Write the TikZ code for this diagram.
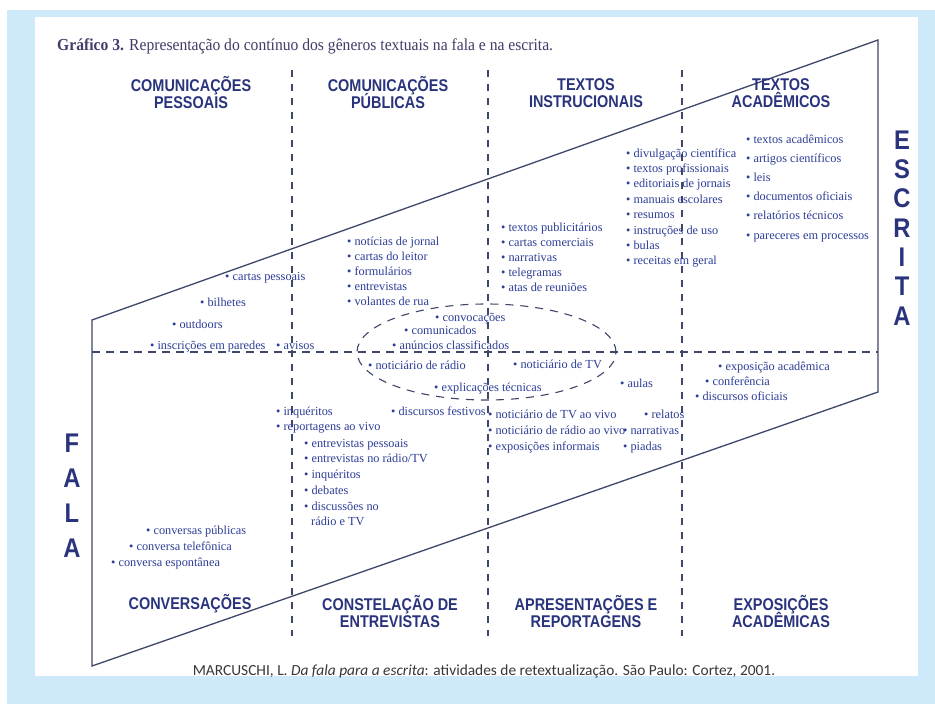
\documentclass[tikz,border=0pt]{standalone}
\usepackage{fontspec}
\setmainfont{Liberation Serif}
\newfontfamily\titlefont[FakeStretch=0.93]{Liberation Serif}
\newfontfamily\hdrfont[FakeStretch=0.85]{Liberation Sans}
\newfontfamily\bigfont[FakeStretch=0.88]{Liberation Sans}
\newfontfamily\capfont{Carlito}
\usetikzlibrary{shapes.geometric}

% keep two-line headings on a fixed baseline grid, accents or not
\lineskiplimit=-20pt
\lineskip=0pt

\definecolor{pageblue}{RGB}{206,233,250}
\definecolor{framecol}{RGB}{62,70,105}
\definecolor{itemblue}{RGB}{45,62,150}
\definecolor{headnavy}{RGB}{42,52,125}
\definecolor{titlecol}{RGB}{66,60,105}
\definecolor{capgray}{RGB}{55,55,55}

\newcommand\gitem[1]{\textbullet\ #1}

\tikzset{
  frameline/.style={draw=framecol, line width=1.3pt},
  divider/.style={draw=framecol, line width=1.1pt, dash pattern=on 7pt off 7pt},
  item/.style={anchor=base west, inner sep=0pt, text=itemblue,
    font=\fontsize{12.3}{14}\selectfont},
  hdr/.style={align=center, inner sep=0pt, text=headnavy,
    font=\hdrfont\bfseries\fontsize{17}{17}\selectfont},
  bigletter/.style={inner sep=0pt, text=headnavy,
    font=\bigfont\bfseries\fontsize{27}{27}\selectfont},
}

\begin{document}
\begin{tikzpicture}[x=1pt,y=-1pt]
\useasboundingbox (0,0) rectangle (935,704);
% page and sheet
\fill[white] (0,0) rectangle (935,704);
\fill[pageblue] (7,10) rectangle (935,704);
\fill[white] (35,17) rectangle (918,676);

% title
\node[anchor=base west, inner sep=0pt, text=titlecol,
  font=\titlefont\fontsize{16.8}{18}\selectfont] (title) at (57,50)
  {\textbf{Gráfico 3.} Representação do contínuo dos gêneros textuais na fala e na escrita.};

% corners of the continuum band
\coordinate (TL) at (92,320);
\coordinate (TR) at (878,40);
\coordinate (BR) at (878,392);
\coordinate (BL) at (92,666);
\draw[frameline] (TL) -- (TR) -- (BR) -- (BL) -- cycle;

% column dividers and the fala/escrita line
\foreach \x/\n in {292/a,488/b,682/c}{
  \coordinate (\n top) at (\x,70);
  \coordinate (\n bot) at (\x,636);
  \draw[divider] (\n top) -- (\n bot);
}
\coordinate (midL) at (92,352);
\coordinate (midR) at (878,352);
\draw[divider, dash pattern=on 8pt off 6pt] (midL) -- (midR);

% dashed oval of mixed genres
\node[ellipse, draw=framecol, line width=1.1pt, dash pattern=on 8pt off 7pt,
  minimum width=259pt, minimum height=96pt, inner sep=0pt] (oval) at (486.5,352) {};

% column headings
\node[hdr] (h1) at (191,93) {COMUNICAÇÕES\\PESSOAIS};
\node[hdr] (h2) at (388,93) {COMUNICAÇÕES\\PÚBLICAS};
\node[hdr] (h3) at (586,93) {TEXTOS\\INSTRUCIONAIS};
\node[hdr] (h4) at (781,93) {TEXTOS\\ACADÊMICOS};
\node[hdr] (f1) at (190,604) {CONVERSAÇÕES};
\node[hdr] (f2) at (390,612) {CONSTELAÇÃO DE\\ENTREVISTAS};
\node[hdr] (f3) at (586,612) {APRESENTAÇÕES E\\REPORTAGENS};
\node[hdr] (f4) at (781,612) {EXPOSIÇÕES\\ACADÊMICAS};

% side words
\foreach \l [count=\i] in {E,S,C,R,I,T,A}
  \node[bigletter] (esc\i) at (902,{140+29.3*(\i-1)}) {\l};
\foreach \l [count=\i] in {F,A,L,A}
  \node[bigletter] (fal\i) at (72,{443+35*(\i-1)}) {\l};

% personal communications
\node[item] (p1) at (225,280) {\gitem{cartas pessoais}};
\node[item] (p2) at (200,306) {\gitem{bilhetes}};
\node[item] (p3) at (172,328) {\gitem{outdoors}};
\node[item] (p4) at (150,349) {\gitem{inscrições em paredes}};
\node[item] (p5) at (276,349) {\gitem{avisos}};

% public communications
\foreach \t [count=\i] in {notícias de jornal,cartas do leitor,formulários,entrevistas,volantes de rua}
  \node[item] (u\i) at (347,{245+15.2*(\i-1)}) {\gitem{\t}};

% instructional texts
\foreach \t [count=\i] in {textos publicitários,cartas comerciais,narrativas,telegramas,atas de reuniões}
  \node[item] (t\i) at (501,{231+15.2*(\i-1)}) {\gitem{\t}};
\foreach \t [count=\i] in {divulgação científica,textos profissionais,editoriais de jornais,manuais escolares,resumos,instruções de uso,bulas,receitas em geral}
  \node[item] (d\i) at (626,{157+15.4*(\i-1)}) {\gitem{\t}};

% academic texts
\foreach \t [count=\i] in {textos acadêmicos,artigos científicos,leis,documentos oficiais,relatórios técnicos,pareceres em processos}
  \node[item] (k\i) at (746,{143+19.2*(\i-1)}) {\gitem{\t}};

% inside the oval
\node[item] (o1) at (435,321) {\gitem{convocações}};
\node[item] (o2) at (404,334) {\gitem{comunicados}};
\node[item] (o3) at (392,349) {\gitem{anúncios classificados}};
\node[item] (o4) at (368,369) {\gitem{noticiário de rádio}};
\node[item] (o5) at (513,368) {\gitem{noticiário de TV}};
\node[item] (o6) at (434,391) {\gitem{explicações técnicas}};

% spoken genres
\node[item] (s1) at (620,387) {\gitem{aulas}};
\node[item] (s2) at (718,370) {\gitem{exposição acadêmica}};
\node[item] (s3) at (705,385) {\gitem{conferência}};
\node[item] (s4) at (695,400) {\gitem{discursos oficiais}};
\node[item] (s5) at (276,415) {\gitem{inquéritos}};
\node[item] (s6) at (276,430) {\gitem{reportagens ao vivo}};
\node[item] (s7) at (391,415) {\gitem{discursos festivos}};
\node[item] (s8) at (488,418) {\gitem{noticiário de TV ao vivo}};
\node[item] (s9) at (488,434) {\gitem{noticiário de rádio ao vivo}};
\node[item] (s10) at (488,450) {\gitem{exposições informais}};
\node[item] (s11) at (644,418) {\gitem{relatos}};
\node[item] (s12) at (623,434) {\gitem{narrativas}};
\node[item] (s13) at (623,450) {\gitem{piadas}};

% interviews
\foreach \t [count=\i] in {entrevistas pessoais,entrevistas no rádio/TV,inquéritos,debates,discussões no}
  \node[item] (e\i) at (304,{447+15.8*(\i-1)}) {\gitem{\t}};
\node[item] (e6) at (311,525) {rádio e TV};

% conversations
\node[item] (c1) at (146,534) {\gitem{conversas públicas}};
\node[item] (c2) at (129,550) {\gitem{conversa telefônica}};
\node[item] (c3) at (111,566) {\gitem{conversa espontânea}};

% source line
\node[inner sep=0pt, text=capgray, font=\capfont\fontsize{15.4}{17}\selectfont] (source) at (484,671)
  {MARCUSCHI, L. \textit{Da fala para a escrita}: atividades de retextualização. São Paulo: Cortez, 2001.};
\end{tikzpicture}
\end{document}
